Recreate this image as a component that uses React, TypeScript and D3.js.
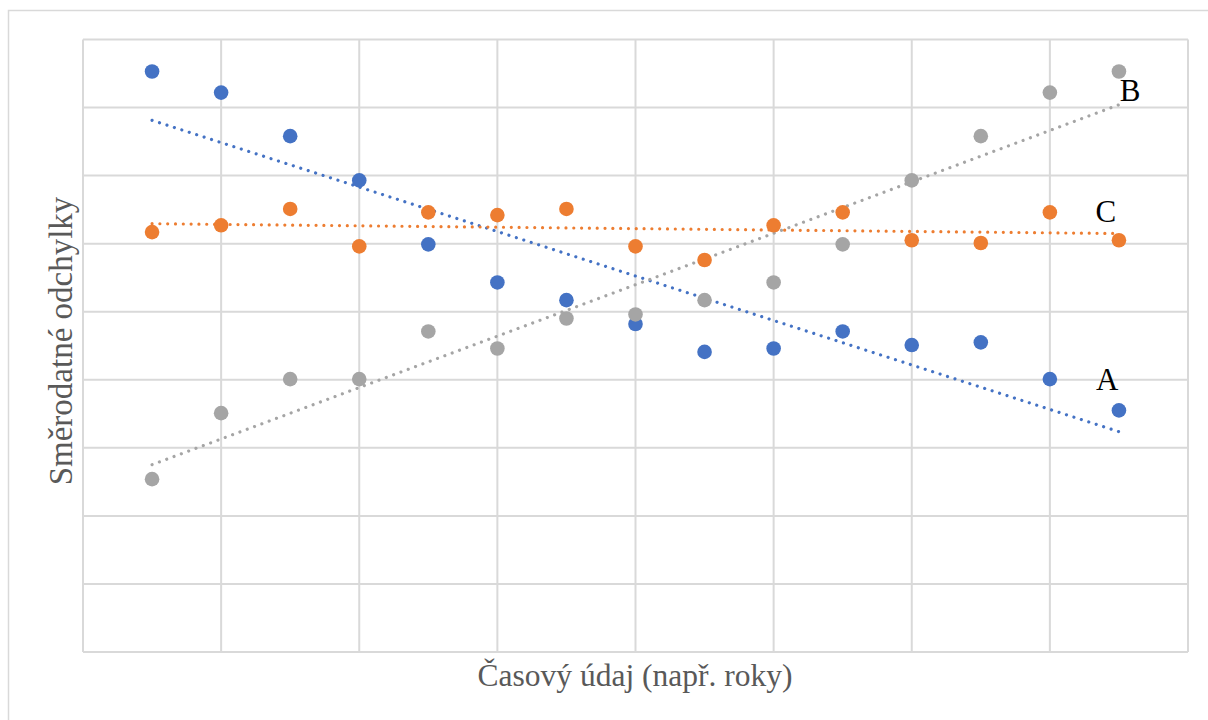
import React from "react";
import * as d3 from "d3";

const xValues = [1, 2, 3, 4, 5, 6, 7, 8, 9, 10, 11, 12, 13, 14, 15];
const seriesA = [8.53, 8.22, 7.58, 6.93, 5.99, 5.43, 5.17, 4.82, 4.41, 4.46, 4.71, 4.51, 4.55, 4.01, 3.55];
const seriesB = [2.54, 3.51, 4.01, 4.01, 4.71, 4.46, 4.9, 4.96, 5.17, 5.43, 5.99, 6.93, 7.58, 8.22, 8.53];
const seriesC = [6.17, 6.27, 6.51, 5.96, 6.46, 6.42, 6.51, 5.96, 5.76, 6.27, 6.46, 6.05, 6.01, 6.46, 6.05];
const seriesNames = ["A", "B", "C"];
const seriesColors = ["#4472C4", "#A5A5A5", "#ED7D31"];
const labelX = [14.83, 15.16, 14.81];
const labelY = [3.85, 8.1, 6.32];
const xGridTicks = [0, 2, 4, 6, 8, 10, 12, 14, 16];
const yGridTicks = [0, 1, 2, 3, 4, 5, 6, 7, 8, 9];
const xTitle = "Časový údaj (např. roky)";
const yTitle = "Směrodatné odchylky";

function regression(xs: number[], ys: number[]) {
  const mx = d3.mean(xs) as number;
  const my = d3.mean(ys) as number;
  let num = 0;
  let den = 0;
  xs.forEach((x, i) => {
    num += (x - mx) * (ys[i] - my);
    den += (x - mx) * (x - mx);
  });
  const slope = num / den;
  return (x: number) => my + slope * (x - mx);
}

export default function App() {
  const W = 1208;
  const H = 720;
  const x = d3.scaleLinear().domain([0, 16]).range([83, 1188]);
  const y = d3.scaleLinear().domain([0, 9]).range([652, 39.5]);
  const all = [seriesA, seriesB, seriesC];
  const font = "'Liberation Serif', 'Times New Roman', serif";
  const line = d3
    .line<[number, number]>()
    .x((d) => x(d[0]))
    .y((d) => y(d[1]));

  return (
    <svg
      width={W}
      height={H}
      style={{ position: "absolute", left: 0, top: 0, background: "#fff" }}
    >
      <rect x={8.5} y={10.5} width={1210} height={720} fill="#fff" stroke="#D9D9D9" strokeWidth={1.5} />
      <g>
        {xGridTicks.map((t) => (
          <line key={"x" + t} x1={x(t)} x2={x(t)} y1={y(9)} y2={y(0)} stroke="#D9D9D9" strokeWidth={2} />
        ))}
        {yGridTicks.map((t) => (
          <line key={"y" + t} x1={x(0)} x2={x(16)} y1={y(t)} y2={y(t)} stroke="#D9D9D9" strokeWidth={2} />
        ))}
      </g>
      {all.map((s, si) => {
        const f = regression(xValues, s);
        const x0 = xValues[0];
        const x1 = xValues[xValues.length - 1];
        return (
          <path
            key={"t" + si}
            d={line([
              [x0, f(x0)],
              [x1, f(x1)],
            ]) as string}
            fill="none"
            stroke={seriesColors[si]}
            strokeWidth={3.2}
            strokeLinecap="round"
            strokeDasharray="0.01 7.8"
          />
        );
      })}
      {all.map((s, si) => (
        <g key={"s" + si}>
          {s.map((v, i) => (
            <circle key={i} cx={x(xValues[i])} cy={y(v)} r={7.3} fill={seriesColors[si]} />
          ))}
        </g>
      ))}
      {seriesNames.map((n, i) => (
        <text
          key={"l" + n}
          x={x(labelX[i])}
          y={y(labelY[i])}
          textAnchor="middle"
          fontFamily={font}
          fontSize={31}
          fill="#000"
        >
          {n}
        </text>
      ))}
      <text x={635} y={686} textAnchor="middle" fontFamily={font} fontSize={31.5} fill="#595959">
        {xTitle}
      </text>
      <text
        transform={`translate(72,341) rotate(-90)`}
        textAnchor="middle"
        fontFamily={font}
        fontSize={33}
        fill="#595959"
      >
        {yTitle}
      </text>
    </svg>
  );
}
